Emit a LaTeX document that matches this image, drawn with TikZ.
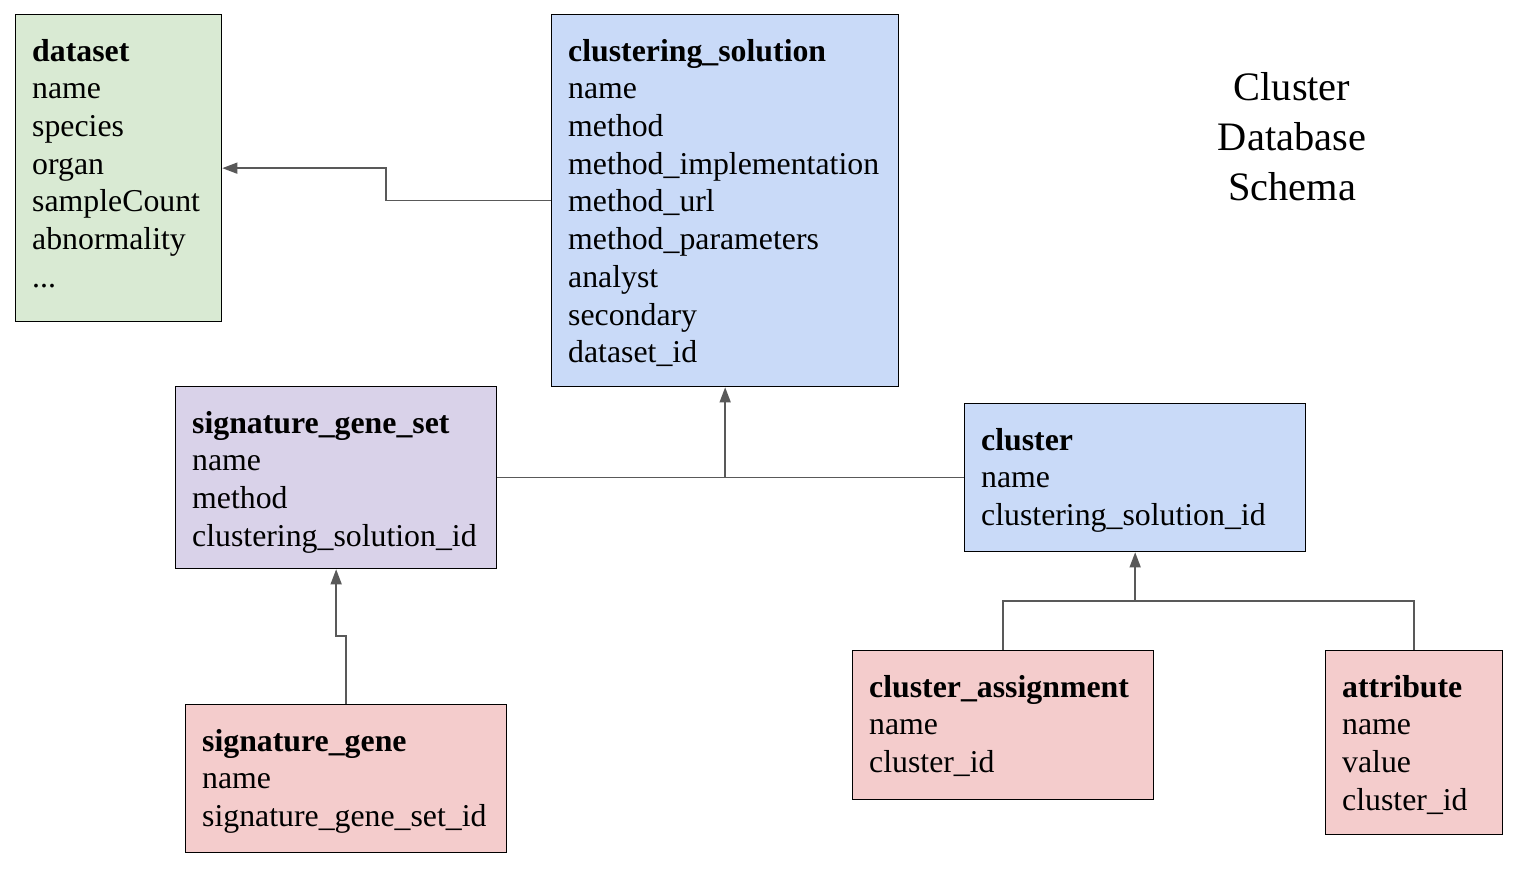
\documentclass[tikz,border=0pt]{standalone}
\usepackage{fontspec}
\setmainfont{Liberation Serif}
\usetikzlibrary{arrows.meta}
\definecolor{dsgreen}{HTML}{D9EAD3}
\definecolor{csblue}{HTML}{C9DAF8}
\definecolor{sgpurple}{HTML}{D9D2E9}
\definecolor{sgred}{HTML}{F4CCCC}
\definecolor{conngray}{HTML}{595959}
\begin{document}
\begin{tikzpicture}[x=1pt,y=-1pt,
  tablebox/.style={draw=black,line width=1.3pt,anchor=north west,inner sep=0pt},
  tabletext/.style={font=\fontsize{31.8}{37.7}\selectfont,align=left,inner sep=0pt,anchor=north west},
  conn/.style={draw=conngray,line width=1.4pt,-{Triangle[length=15pt,width=11pt]}},
  plainconn/.style={draw=conngray,line width=1.4pt}]
\useasboundingbox[fill=white] (0,0) rectangle (1538,880);

% boxes
\node[tablebox,fill=dsgreen,minimum width=206pt,minimum height=307pt] (ds) at (15,14) {};
\node[tablebox,fill=csblue,minimum width=347pt,minimum height=372pt] (cs) at (551,14) {};
\node[tablebox,fill=sgpurple,minimum width=321pt,minimum height=182pt] (sgs) at (175,386) {};
\node[tablebox,fill=csblue,minimum width=341pt,minimum height=148pt] (cl) at (964,403) {};
\node[tablebox,fill=sgred,minimum width=321pt,minimum height=148pt] (sg) at (185,704) {};
\node[tablebox,fill=sgred,minimum width=301pt,minimum height=149pt] (ca) at (852,650) {};
\node[tablebox,fill=sgred,minimum width=177pt,minimum height=184pt] (at) at (1325,650) {};

% texts
\node[tabletext] (ds-t) at ([shift={(17pt,-20.6pt)}]ds.north west)
  {\strut\textbf{dataset}\\\strut name\\\strut species\\\strut organ\\\strut sampleCount\\\strut abnormality\\\strut ...};
\node[tabletext] (cs-t) at ([shift={(17pt,-20.6pt)}]cs.north west)
  {\strut\textbf{clustering\_solution}\\\strut name\\\strut method\\\strut method\_implementation\\\strut method\_url\\\strut method\_parameters\\\strut analyst\\\strut secondary\\\strut dataset\_id};
\node[tabletext] (sgs-t) at ([shift={(17pt,-20.6pt)}]sgs.north west)
  {\strut\textbf{signature\_gene\_set}\\\strut name\\\strut method\\\strut clustering\_solution\_id};
\node[tabletext] (cl-t) at ([shift={(17pt,-20.6pt)}]cl.north west)
  {\strut\textbf{cluster}\\\strut name\\\strut clustering\_solution\_id};
\node[tabletext] (sg-t) at ([shift={(17pt,-20.6pt)}]sg.north west)
  {\strut\textbf{signature\_gene}\\\strut name\\\strut signature\_gene\_set\_id};
\node[tabletext] (ca-t) at ([shift={(17pt,-20.6pt)}]ca.north west)
  {\strut\textbf{cluster\_assignment}\\\strut name\\\strut cluster\_id};
\node[tabletext] (at-t) at ([shift={(17pt,-20.6pt)}]at.north west)
  {\strut\textbf{attribute}\\\strut name\\\strut value\\\strut cluster\_id};

% title
\node[font=\fontsize{40.4}{50}\selectfont,align=center,inner sep=0pt,anchor=north] (title) at (1292,65.7)
  {\strut Cluster\\\strut Database\\\strut Schema};

% connectors
\draw[conn] (cs.west) -- ++(-165,0) |- (ds.east);
\draw[plainconn] (sgs.east) -- (cl.west);
\draw[conn] (sgs.east -| cs.south) -- (cs.south);
\draw[conn] (sg.north) -- ++(0,-68) -| (sgs.south);
\path (ca.north) ++(0,-49) coordinate (caj);
\draw[plainconn] (ca.north) -- (caj) -| (at.north);
\draw[conn] (caj -| cl.south) -- (cl.south);
\end{tikzpicture}
\end{document}
